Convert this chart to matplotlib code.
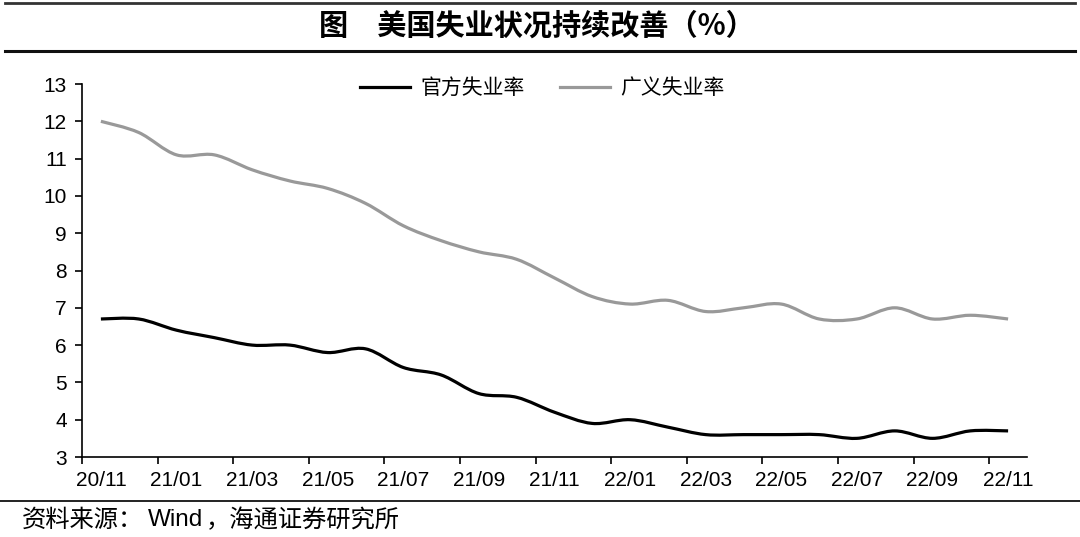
import matplotlib
matplotlib.use("Agg")
import matplotlib.pyplot as plt
from matplotlib.path import Path
from matplotlib.patches import PathPatch
from matplotlib.lines import Line2D
import numpy as np

months = ["20/11", "20/12", "21/01", "21/02", "21/03", "21/04", "21/05", "21/06",
          "21/07", "21/08", "21/09", "21/10", "21/11", "21/12", "22/01", "22/02",
          "22/03", "22/04", "22/05", "22/06", "22/07", "22/08", "22/09", "22/10", "22/11"]
official = [6.7, 6.7, 6.4, 6.2, 6.0, 6.0, 5.8, 5.9, 5.4, 5.2, 4.7, 4.6, 4.2, 3.9,
            4.0, 3.8, 3.6, 3.6, 3.6, 3.6, 3.5, 3.7, 3.5, 3.7, 3.7]
broad = [12.0, 11.7, 11.1, 11.1, 10.7, 10.4, 10.2, 9.8, 9.2, 8.8, 8.5, 8.3, 7.8,
         7.3, 7.1, 7.2, 6.9, 7.0, 7.1, 6.7, 6.7, 7.0, 6.7, 6.8, 6.7]
series_names = ["官方失业率", "广义失业率"]
series_colors = ["#000000", "#999999"]

plt.rcParams['font.family'] = ['Liberation Sans', 'Noto Sans CJK SC', 'DejaVu Sans']
CJK = ['Noto Sans CJK SC', 'DejaVu Sans']

fig = plt.figure(figsize=(10.8, 5.37), dpi=100)
ax = fig.add_axes([82/1080, 1-457/537, (1027-82)/1080, (457-84)/537])


def smooth_path(xs, ys):
    xs = np.asarray(xs, float)
    ys = np.asarray(ys, float)
    pts = np.column_stack([xs, ys])
    n = len(pts)
    verts = [pts[0]]
    codes = [Path.MOVETO]
    for i in range(n - 1):
        p0 = pts[i - 1] if i > 0 else pts[i]
        p1 = pts[i]
        p2 = pts[i + 1]
        p3 = pts[i + 2] if i + 2 < n else pts[i + 1]
        c1 = p1 + (p2 - p0) / 6.0
        c2 = p2 - (p3 - p1) / 6.0
        verts += [c1, c2, p2]
        codes += [Path.CURVE4] * 3
    return Path(verts, codes)


x = np.arange(len(months))
for vals, col in zip([official, broad], series_colors):
    patch = PathPatch(smooth_path(x, vals), facecolor='none', edgecolor=col,
                      lw=2.3, capstyle='butt', joinstyle='round')
    ax.add_patch(patch)
    ax.plot(x, vals, color='none')

ax.set_xlim(-0.5, len(months) - 0.5)
ax.set_ylim(3, 13)
ax.set_yticks(range(3, 14))
ax.set_xticks(x[::2])
ax.set_xticklabels(months[::2])
ax.set_xticks(np.arange(-0.5, len(months) - 1, 2), minor=True)
ax.tick_params(axis='x', which='major', length=0, pad=10, labelsize=15)
ax.tick_params(axis='x', which='minor', length=5, width=1.2, direction='out')
ax.tick_params(axis='y', length=5, width=1.2, direction='out', pad=6, labelsize=15)
for s in ['top', 'right']:
    ax.spines[s].set_visible(False)
for s in ['left', 'bottom']:
    ax.spines[s].set_linewidth(1.2)

handles = [Line2D([], [], color=c, lw=2.3) for c in series_colors]
leg = ax.legend(handles, series_names, loc='center', bbox_to_anchor=(0.487, 1 - 4/373),
                ncol=2, frameon=False, handlelength=2.4, columnspacing=1.7,
                handletextpad=0.5, borderpad=0, prop={'family': CJK, 'size': 15})

# title bars
fig.add_artist(Line2D([0.005, 0.995], [1-3/537, 1-3/537], color='#333333', lw=2.0))
fig.add_artist(Line2D([0.005, 0.995], [1-51/537, 1-51/537], color='#111111', lw=2.2))
fig.text(537/1080, 1-26/537, "图\u3000美国失业状况持续改善（%）", ha='center', va='center',
         family=CJK, fontsize=21, fontweight='bold')

fig.add_artist(Line2D([0.0, 1.0], [1-501/537, 1-501/537], color='#111111', lw=1.3))
fig.text(22/1080, 1-520/537, "资料来源：", ha='left', va='center',
         family=CJK, fontsize=17.5)
fig.text(148/1080, 1-520/537, "Wind", ha='left', va='center',
         family=['Liberation Sans'], fontsize=17.5)
fig.text(206/1080, 1-520/537, "，海通证券研究所", ha='left', va='center',
         family=CJK, fontsize=17.5)

fig.savefig("out.png", dpi=100)
